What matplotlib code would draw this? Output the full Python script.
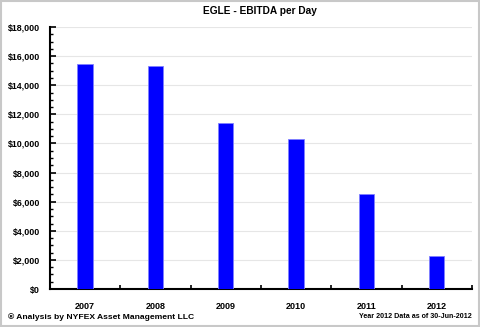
import numpy as np
import matplotlib
matplotlib.use("Agg")
import matplotlib.pyplot as plt
from matplotlib.ticker import MultipleLocator, FuncFormatter
from matplotlib.patches import Rectangle

# --- chart data ---
YEARS = ["2007", "2008", "2009", "2010", "2011", "2012"]
EBITDA_PER_DAY = [15430, 15290, 11380, 10340, 6530, 2270]

TITLE = "EGLE - EBITDA per Day"
FOOTER_LEFT = "\u00ae Analysis by NYFEX Asset Management LLC"
FOOTER_RIGHT = "Year 2012 Data as of 30-Jun-2012"

plt.rcParams["font.family"] = ["Liberation Sans", "DejaVu Sans"]
plt.rcParams["font.weight"] = "bold"


def main():
    fig = plt.figure(figsize=(4.8, 3.27), dpi=100)
    ax = fig.add_axes([0.104, 0.1162, 0.879, 0.8012])

    x = np.arange(len(YEARS))
    ax.bar(x, EBITDA_PER_DAY, width=0.22, color="#0000ff", edgecolor="#8080ff",
           linewidth=0.6, zorder=3)

    ax.set_xlim(-0.5, len(YEARS) - 0.5)
    ax.set_ylim(0, 18000)
    ax.yaxis.set_major_locator(MultipleLocator(2000))
    ax.yaxis.set_minor_locator(MultipleLocator(500))
    ax.yaxis.set_major_formatter(FuncFormatter(lambda v, _: f"${v:,.0f}"))
    ax.grid(axis="y", color="#e6e6e6", linewidth=0.8, zorder=0)

    ax.set_xticks(x)
    ax.set_xticklabels(YEARS, fontsize=6.5, fontweight="bold")
    ax.set_xticks(np.arange(-0.5, len(YEARS)), minor=True)
    ax.tick_params(axis="x", which="major", length=0, pad=9)
    ax.tick_params(axis="x", which="minor", direction="in", length=3, width=1.2)
    ax.tick_params(axis="y", which="major", direction="in", length=4, width=1.2,
                   labelsize=6.4, pad=7)
    ax.tick_params(axis="y", which="minor", direction="in", length=2.5, width=1)
    for lab in ax.get_yticklabels():
        lab.set_fontweight("bold")

    for s in ("top", "right"):
        ax.spines[s].set_visible(False)
    for s in ("left", "bottom"):
        ax.spines[s].set_linewidth(1.5)

    fig.text(0.542, 0.966, TITLE, ha="center", va="center", fontsize=7.3,
             fontweight="bold")
    fig.text(0.017, 0.031, FOOTER_LEFT, ha="left", va="center", fontsize=6.1,
             fontweight="bold")
    fig.text(0.982, 0.031, FOOTER_RIGHT, ha="right", va="center", fontsize=5.1,
             fontweight="bold")

    fig.patches.append(Rectangle((0.002, 0.003), 0.995, 0.993, transform=fig.transFigure,
                                 fill=False, edgecolor="#c8c8c8", linewidth=1.5))

    fig.savefig("out.png", dpi=100)


if __name__ == "__main__":
    main()
